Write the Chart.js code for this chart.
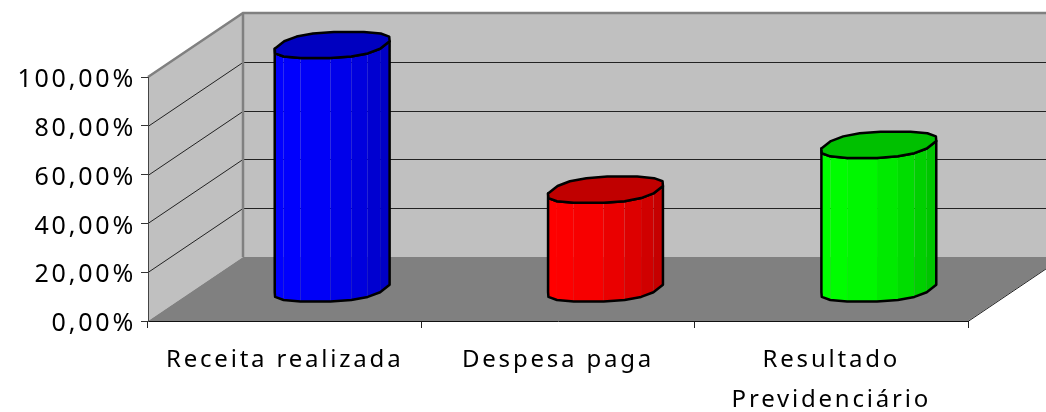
<!DOCTYPE html>
<html>
<head>
<meta charset="utf-8">
<style>
  html, body { margin: 0; padding: 0; background: #fff; }
  canvas { display: block; }
</style>
<script src="https://cdn.jsdelivr.net/npm/chart.js@4"></script>
</head>
<body>
<canvas id="chart" width="1046" height="412"></canvas>
<script>
const categories = ["Receita realizada", "Despesa paga", ["Resultado", "Previdenciário"]];
const percentages = [100, 40.7, 59.1];

const sideColors = ["#0000ff", "#ff0000", "#00ff00"];
const FONT = "'Noto Sans', sans-serif";
const DEPTH_X = 95;
const DEPTH_Y = -64;
const FACETS = 16;

function shade(hex, k) {
  const n = parseInt(hex.slice(1), 16);
  const r = Math.round(((n >> 16) & 255) * k);
  const g = Math.round(((n >> 8) & 255) * k);
  const b = Math.round((n & 255) * k);
  return `rgb(${r},${g},${b})`;
}

function poly(ctx, pts) {
  ctx.beginPath();
  pts.forEach((p, i) => (i ? ctx.lineTo(p[0], p[1]) : ctx.moveTo(p[0], p[1])));
  ctx.closePath();
}

function line(ctx, x1, y1, x2, y2, color, width) {
  ctx.strokeStyle = color;
  ctx.lineWidth = width;
  ctx.beginPath();
  ctx.moveTo(x1, y1);
  ctx.lineTo(x2, y2);
  ctx.stroke();
}

// slightly squared-off circle, the reference's ends are boxier than an ellipse
function squarish(v) {
  return Math.sign(v) * Math.pow(Math.abs(v), 0.78);
}

// walls and floor behind the axes
const walls = {
  id: "walls",
  beforeDraw(chart) {
    const { ctx, chartArea: a, scales } = chart;
    ctx.letterSpacing = "2.8px";
    const dx = DEPTH_X, dy = DEPTH_Y;

    ctx.fillStyle = "#c0c0c0";
    poly(ctx, [[a.left, a.top], [a.left + dx, a.top + dy], [a.left + dx, a.bottom + dy], [a.left, a.bottom]]);
    ctx.fill();
    poly(ctx, [[a.left + dx, a.top + dy], [a.right + dx, a.top + dy], [a.right + dx, a.bottom + dy], [a.left + dx, a.bottom + dy]]);
    ctx.fill();

    ctx.fillStyle = "#808080";
    poly(ctx, [[a.left, a.bottom], [a.left + dx, a.bottom + dy], [a.right + dx, a.bottom + dy], [a.right, a.bottom]]);
    ctx.fill();

    scales.y.ticks.forEach((t) => {
      if (t.value === 0 || t.value === 100) return;
      const y = Math.round(scales.y.getPixelForValue(t.value)) + 0.5;
      line(ctx, a.left, y, a.left + dx, y + dy, "#222", 1);
      line(ctx, a.left + dx, y + dy, a.right + dx, y + dy, "#222", 1);
    });

    ctx.lineJoin = "miter";
    ctx.strokeStyle = "#808080";
    ctx.lineWidth = 2.5;
    ctx.beginPath();
    ctx.moveTo(a.left, a.top);
    ctx.lineTo(a.left + dx, a.top + dy);
    ctx.lineTo(a.right + dx, a.top + dy);
    ctx.stroke();
    line(ctx, a.left + dx, a.top + dy, a.left + dx, a.bottom + dy, "#808080", 2.5);
    line(ctx, a.right, a.bottom + 0.5, a.right + dx, a.bottom + dy + 0.5, "#222", 1);
  },
};

// cylinders, placed from the bar elements the chart has laid out
const cylinders = {
  id: "cylinders",
  afterDatasetsDraw(chart) {
    const { ctx } = chart;
    chart.getDatasetMeta(0).data.forEach((bar, i) => {
      const half = bar.width / 2;
      const vx = 17, vy = -13.3;
      const ux = half - 5;
      const cx = bar.x + DEPTH_X / 2;
      const topY = bar.y + DEPTH_Y / 2;
      const baseY = bar.base + DEPTH_Y / 2;

      const ring = [];
      for (let k = 0; k < FACETS; k += 1) {
        const t = (11.25 + (360 / FACETS) * k) * Math.PI / 180;
        const c = squarish(Math.cos(t));
        const s = squarish(Math.sin(t));
        ring.push([ux * c + vx * s, vy * s]);
      }

      // front of the ring, left silhouette to right silhouette
      let start = 0, end = 0;
      ring.forEach((p, k) => {
        if (p[0] < ring[start][0]) start = k;
        if (p[0] > ring[end][0]) end = k;
      });
      const front = [];
      for (let k = start; ; k = (k + 1) % FACETS) {
        front.push(ring[k]);
        if (k === end) break;
      }

      for (let k = 0; k < front.length - 1; k += 1) {
        const p = front[k], q = front[k + 1];
        const f = ((p[0] + q[0]) / 2 + half) / (2 * half);
        ctx.fillStyle = shade(sideColors[i], 1 - 0.25 * Math.pow(f, 2));
        poly(ctx, [
          [cx + p[0], topY + p[1]], [cx + q[0], topY + q[1]],
          [cx + q[0], baseY + q[1]], [cx + p[0], baseY + p[1]],
        ]);
        ctx.fill();
      }

      ctx.lineJoin = "round";
      ctx.strokeStyle = "#000";
      ctx.lineWidth = 2.5;
      const outline = [];
      front.forEach((p) => outline.push([cx + p[0], baseY + p[1]]));
      front.slice().reverse().forEach((p) => outline.push([cx + p[0], topY + p[1]]));
      poly(ctx, outline);
      ctx.stroke();

      ctx.fillStyle = shade(sideColors[i], 0.753);
      poly(ctx, ring.map((p) => [cx + p[0], topY + p[1]]));
      ctx.fill();
      ctx.stroke();
    });
  },
};

new Chart(document.getElementById("chart").getContext("2d"), {
  type: "bar",
  data: {
    labels: categories,
    datasets: [{
      data: percentages,
      backgroundColor: "rgba(0,0,0,0)",
      barPercentage: 0.428,
      categoryPercentage: 1,
    }],
  },
  options: {
    responsive: false,
    animation: false,
    layout: { padding: { top: 77, right: 78, left: 0, bottom: 0 } },
    plugins: { legend: { display: false }, tooltip: { enabled: false } },
    scales: {
      x: {
        afterFit: (s) => { s.height = 91; },
        grid: { drawOnChartArea: false, color: "#222", tickLength: 7, offset: true },
        border: { color: "#111", width: 1 },
        ticks: {
          color: "#000",
          maxRotation: 0,
          autoSkip: false,
          padding: 13,
          font: { family: FONT, size: 24, lineHeight: 1.63 },
        },
      },
      y: {
        min: 0,
        max: 100,
        afterFit: (s) => { s.width = 148; },
        grid: { drawOnChartArea: false, color: "#333", tickLength: 7 },
        border: { color: "#444", width: 1 },
        ticks: {
          stepSize: 20,
          color: "#000",
          padding: 5,
          labelOffset: 3,
          font: { family: FONT, size: 25 },
          callback: (v) => v.toFixed(2).replace(".", ",") + "%",
        },
      },
    },
  },
  plugins: [walls, cylinders],
});
</script>
</body>
</html>
